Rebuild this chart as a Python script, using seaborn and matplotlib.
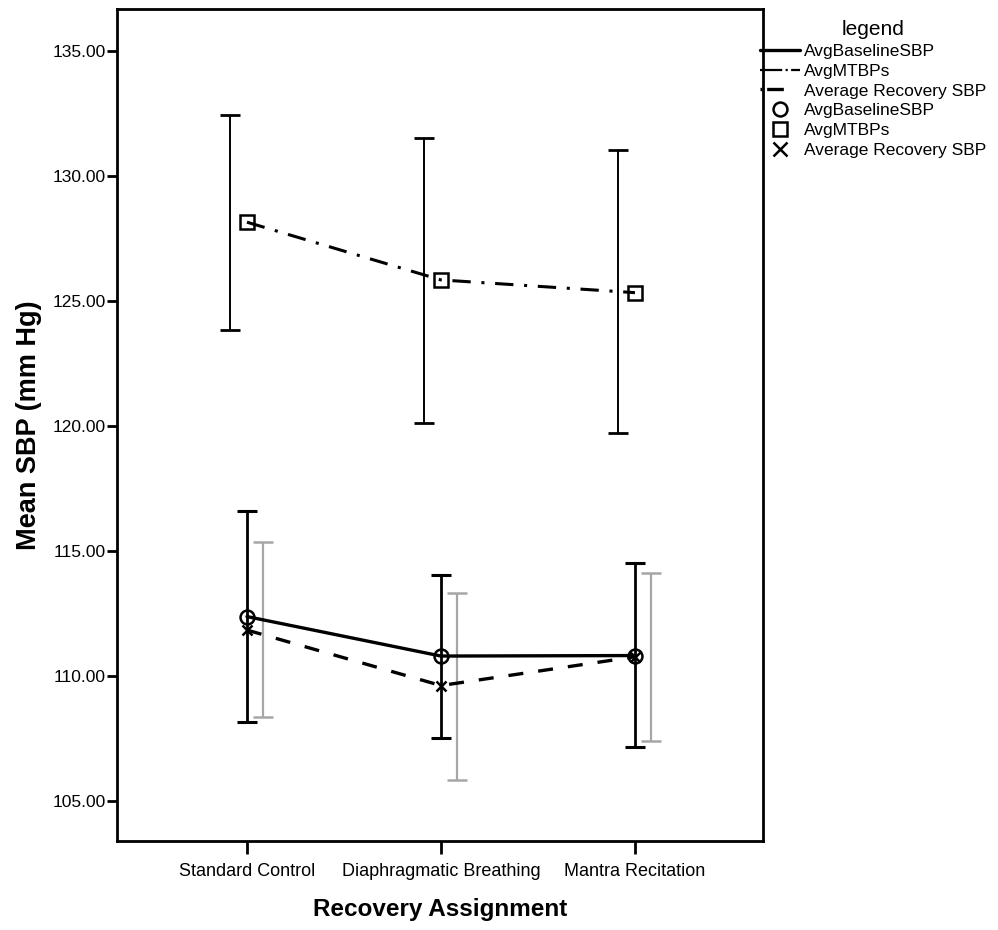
import numpy as np
import pandas as pd
import matplotlib
matplotlib.use("Agg")
import matplotlib.pyplot as plt
from matplotlib.lines import Line2D
import seaborn as sns

# ---------------- data ----------------
categories = ["Standard Control", "Diaphragmatic Breathing", "Mantra Recitation"]
baseline_mean = [112.36, 110.78, 110.80]
baseline_low = [108.14, 107.50, 107.14]
baseline_high = [116.60, 114.03, 114.51]
mtbp_mean = [128.14, 125.83, 125.32]
mtbp_low = [123.84, 120.12, 119.72]
mtbp_high = [132.43, 131.50, 131.03]
recovery_mean = [111.82, 109.60, 110.75]
recovery_low = [108.36, 105.84, 107.40]
recovery_high = [115.36, 113.31, 114.10]
y_ticks = [105, 110, 115, 120, 125, 130, 135]
series_names = ["AvgBaselineSBP", "AvgMTBPs", "Average Recovery SBP"]

# ---------------- style ----------------
sns.set_theme(style="white")
plt.rcParams["font.family"] = ["Liberation Sans Narrow", "Liberation Sans", "DejaVu Sans"]
for k in ["text.color", "axes.labelcolor", "xtick.color", "ytick.color"]:
    plt.rcParams[k] = "black"

fig = plt.figure(figsize=(9.98, 9.30), dpi=100)
ax = fig.add_axes([117 / 998, 1 - 841 / 930, (763 - 117) / 998, (841 - 9) / 930])

pos = np.arange(len(categories))
df = pd.DataFrame({
    "pos": np.tile(pos, 3),
    "value": baseline_mean + mtbp_mean + recovery_mean,
    "series": np.repeat(series_names, len(categories)),
})

dodge = 0.085

# error bars
ax.errorbar(pos - dodge, mtbp_mean,
            yerr=[np.array(mtbp_mean) - np.array(mtbp_low), np.array(mtbp_high) - np.array(mtbp_mean)],
            fmt="none", ecolor="black", elinewidth=1.4, capsize=7, capthick=2.0, zorder=2)
ax.errorbar(pos, baseline_mean,
            yerr=[np.array(baseline_mean) - np.array(baseline_low), np.array(baseline_high) - np.array(baseline_mean)],
            fmt="none", ecolor="black", elinewidth=2.0, capsize=7, capthick=2.2, zorder=2)
ax.errorbar(pos + dodge, recovery_mean,
            yerr=[np.array(recovery_mean) - np.array(recovery_low), np.array(recovery_high) - np.array(recovery_mean)],
            fmt="none", ecolor="#a6a6a6", elinewidth=1.6, capsize=7, capthick=1.8, zorder=2)

# lines with markers
sub = df[df.series == "AvgBaselineSBP"]
sns.lineplot(data=sub, x="pos", y="value", ax=ax, color="black", linewidth=2.4,
             linestyle="-", marker="o", markersize=10, markerfacecolor="none",
             markeredgecolor="black", markeredgewidth=1.8, zorder=3)
sub = df[df.series == "AvgMTBPs"]
sns.lineplot(data=sub, x="pos", y="value", ax=ax, color="black", linewidth=2.2,
             linestyle=(0, (6, 3.5, 1, 3.5)), marker="s", markersize=10, markerfacecolor="none",
             markeredgecolor="black", markeredgewidth=1.8, zorder=3)
sub = df[df.series == "Average Recovery SBP"]
sns.lineplot(data=sub, x="pos", y="value", ax=ax, color="black", linewidth=2.4,
             linestyle=(0, (4.5, 4.5)), marker="x", markersize=7,
             markeredgecolor="black", markeredgewidth=1.8, zorder=3)

# axes
ax.set_xlim(-0.67, 2.66)
ax.set_ylim(103.38, 136.67)
ax.set_xticks(pos)
ax.set_xticklabels(categories, fontsize=13)
ax.set_yticks(y_ticks)
ax.set_yticklabels([f"{v:.2f}" for v in y_ticks], fontsize=12.5)
ax.tick_params(axis="y", direction="out", length=7, width=2, color="black", left=True, pad=1)
ax.tick_params(axis="x", direction="out", length=9, width=2, color="black", bottom=True, pad=7)
for s in ax.spines.values():
    s.set_visible(True)
    s.set_color("black")
    s.set_linewidth(2)
ax.set_xlabel("Recovery Assignment", fontsize=17.5, fontweight="bold", labelpad=13)
ax.set_ylabel("Mean SBP (mm Hg)", fontsize=19.5, fontweight="bold", labelpad=8,
              family=["Liberation Sans", "DejaVu Sans"])
ax.grid(False)

# legend
handles = [
    Line2D([0], [0], color="black", linewidth=2.4, linestyle="-"),
    Line2D([0], [0], color="black", linewidth=1.6, linestyle=(0, (10, 1.5, 1, 1.5))),
    Line2D([0], [0], color="black", linewidth=2.4, linestyle=(0, (0.5, 1.5, 5, 10))),
    Line2D([0], [0], color="black", linestyle="none", marker="o", markersize=10,
           markerfacecolor="none", markeredgewidth=1.8),
    Line2D([0], [0], color="black", linestyle="none", marker="s", markersize=10,
           markerfacecolor="none", markeredgewidth=1.8),
    Line2D([0], [0], color="black", linestyle="none", marker="x", markersize=10,
           markeredgewidth=1.8),
]
labels = series_names + series_names
leg = fig.legend(handles, labels, title="legend", loc="upper left",
                 bbox_to_anchor=(760 / 998, 1 - 20 / 930), frameon=False,
                 fontsize=12.5, title_fontsize=15, handlelength=2.3,
                 handletextpad=0.25, labelspacing=0.27, borderaxespad=0, borderpad=0)
leg._legend_box.align = "center"

fig.savefig("out.png", dpi=100)
